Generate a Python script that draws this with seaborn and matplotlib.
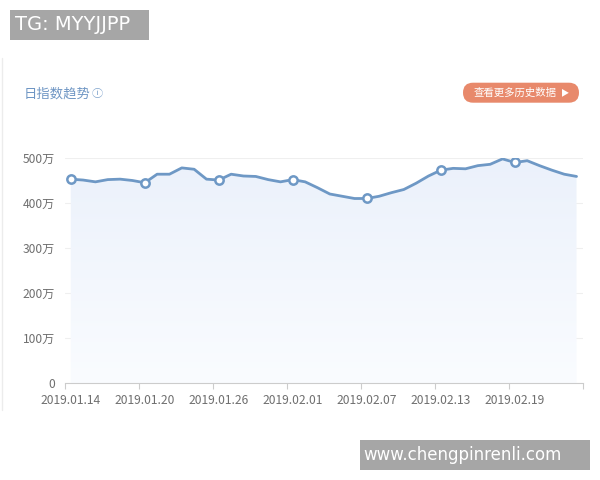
"""
Daily index trend chart (日指数趋势), 2019.01.14 - 2019.02.24.
Saves out.png (600x480).
"""

import matplotlib.pyplot as plt
import numpy as np
import pandas as pd
import seaborn as sns
from matplotlib.patches import FancyBboxPatch, Rectangle
from matplotlib.lines import Line2D

# daily index values, in 万
values = [453, 451, 447, 452, 453, 450, 445, 464, 464, 478, 475, 453, 451, 464,
          460, 459, 452, 447, 452, 447, 434, 420, 415, 410, 410, 415, 423, 430,
          444, 460, 473, 477, 476, 483, 486, 498, 490, 494, 483, 473, 464, 459]
dates = pd.date_range("2019-01-14", periods=len(values), freq="D")
y_ticks = [0, 100, 200, 300, 400, 500]
y_labels = ["0" if v == 0 else f"{v}万" for v in y_ticks]

LINE_COLOR = "#6e98c5"

sns.set_theme(style="white")
plt.rcParams["font.family"] = ["Noto Sans CJK SC", "DejaVu Sans"]

df = pd.DataFrame({"idx": np.arange(len(values)), "value": values, "date": dates})
n = len(df)

fig = plt.figure(figsize=(6, 4.8), dpi=100)
fig.patch.set_facecolor("white")
ax = fig.add_axes([64.6 / 600, 1 - 383 / 480, (582.7 - 64.6) / 600, (383 - 158) / 480])
ax.set_facecolor("white")

# gradient fill under the line
fill = ax.fill_between(df["idx"], df["value"], 0, color="none", lw=0)
grad = np.linspace(0, 1, 256).reshape(-1, 1)
cmap = sns.blend_palette(["#fafcff", "#ebf1fb"], as_cmap=True)
img = ax.imshow(grad, cmap=cmap, aspect="auto", origin="lower",
                extent=[-0.5, n - 0.5, 0, 500], zorder=1)
img.set_clip_path(fill.get_paths()[0], transform=ax.transData)

sns.lineplot(data=df, x="idx", y="value", ax=ax, color=LINE_COLOR, lw=2.0,
             marker="o", markevery=6, markersize=6, markerfacecolor="white",
             markeredgecolor=LINE_COLOR, markeredgewidth=1.8, zorder=3,
             solid_joinstyle="round", solid_capstyle="round")

ax.set_xlim(-0.5, n - 0.5)
ax.set_ylim(0, 500)
ax.set_yticks(y_ticks)
ax.set_yticklabels(y_labels)
ax.yaxis.grid(True, color="#efefef", lw=0.8)
ax.set_axisbelow(True)

# ticks at category boundaries, labels at category centres
ax.set_xticks(np.arange(-0.5, n, 6))
ax.set_xticklabels([])
label_idx = np.arange(0, n, 6)
ax.set_xticks(label_idx, minor=True)
ax.set_xticklabels([dates[i].strftime("%Y.%m.%d") for i in label_idx], minor=True)
ax.tick_params(axis="x", which="major", length=4, width=0.8, color="#cccccc",
               direction="out", bottom=True)
ax.tick_params(axis="x", which="minor", length=0, pad=8, labelsize=8.7,
               labelcolor="#6f6f6f", bottom=True)
ax.tick_params(axis="y", length=0, pad=7, labelsize=8.7, labelcolor="#6f6f6f")
ax.set_xlabel("")
ax.set_ylabel("")

for side in ["top", "right", "left"]:
    ax.spines[side].set_visible(False)
ax.spines["bottom"].set_color("#cccccc")
ax.spines["bottom"].set_linewidth(0.8)

# card edge on the left
fig.add_artist(Line2D([1.5 / 600, 1.5 / 600], [1 - 410 / 480, 1 - 58 / 480],
                      transform=fig.transFigure, color="#ececec", lw=1))

# title
fig.text(24 / 600, 1 - 94 / 480, "日指数趋势", color="#6f96c4", fontsize=9.6,
         va="center", ha="left")
fig.text(92 / 600, 1 - 93.5 / 480, "ⓘ", color="#7fa3cc", fontsize=8,
         va="center", ha="left")

# button
fig.add_artist(FancyBboxPatch((4.63, 3.773), 1.16, 0.20,
                              boxstyle="round,pad=0,rounding_size=0.1",
                              transform=fig.dpi_scale_trans, fc="#e8896b",
                              ec="none"))
fig.text(515 / 600, 1 - 93 / 480, "查看更多历史数据", color="white", fontsize=7.5,
         va="center", ha="center")
fig.text(565 / 600, 1 - 93 / 480, "▶", color="white", fontsize=6,
         va="center", ha="center")

# overlays
fig.add_artist(Rectangle((0.10, 4.40), 1.39, 0.30, transform=fig.dpi_scale_trans,
                         fc="#a6a6a6", ec="none"))
fig.text(15 / 600, 1 - 25 / 480, "TG: MYYJJPP", color="white", fontsize=14,
         va="center", ha="left", family="DejaVu Sans")
fig.add_artist(Rectangle((3.60, 0.10), 2.30, 0.30, transform=fig.dpi_scale_trans,
                         fc="#a6a6a6", ec="none"))
fig.text(363 / 600, 1 - 455 / 480, "www.chengpinrenli.com", color="white",
         fontsize=12, va="center", ha="left", family="DejaVu Sans")

fig.savefig("out.png", dpi=100)
